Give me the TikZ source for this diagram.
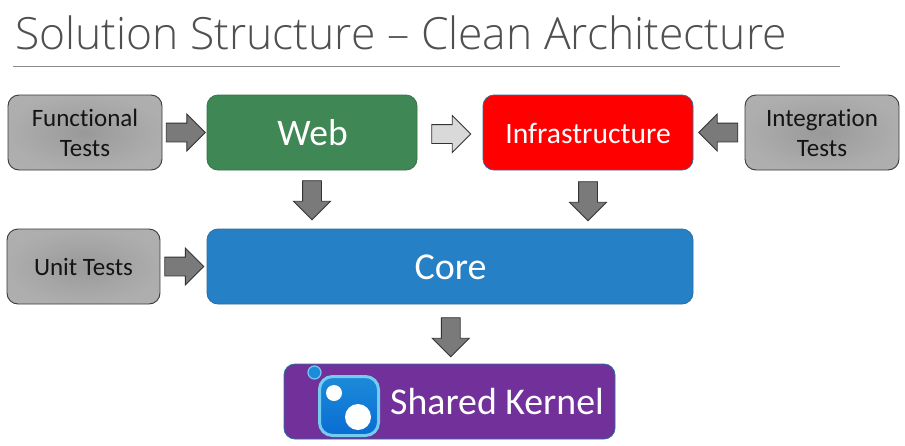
\documentclass[tikz,border=0pt]{standalone}
\usepackage{fontspec}
\setmainfont[Ligatures=NoCommon]{Carlito}
\newfontfamily\titlefont{Open Sans Light}
\usetikzlibrary{shapes.arrows,calc}
\definecolor{tgray}{HTML}{505050}
\definecolor{boxline}{HTML}{3A3A3A}
\definecolor{webgreen}{HTML}{3F8754}
\definecolor{corblue}{HTML}{2680C5}
\definecolor{kernel}{HTML}{72309A}
\definecolor{edgeblue}{HTML}{2F6C9E}
\definecolor{logoedge}{HTML}{74CDEF}
\definecolor{logotop}{HTML}{1C8BDA}
\definecolor{logobot}{HTML}{0A6CD2}
\pgfdeclareradialshading{graybox}{\pgfpointorigin}{color(0bp)=(black!40); color(12bp)=(black!36); color(25bp)=(black!32); color(50bp)=(black!30)}
\tikzset{
  testbox/.style={draw=boxline,line width=0.9pt,rounded corners=11pt,shading=graybox,minimum width=#1,minimum height=75pt,inner sep=0pt,align=center,text=black!92,font=\fontsize{25}{30}\selectfont},
  layerbox/.style={draw=edgeblue,line width=0.8pt,rounded corners=11pt,minimum height=75pt,inner sep=0pt,text=white,align=center},
  blockarrow/.style={shape=single arrow,draw=black!80,line width=0.9pt,fill=black!52,minimum height=39pt,minimum width=36pt,single arrow head extend=9pt,single arrow tip angle=90,inner sep=9pt,outer sep=0pt},
  lightarrow/.style={blockarrow,fill=black!15},
  logodot/.style={circle,fill=white,inner sep=0pt,minimum size=#1}
}
\begin{document}
\begin{tikzpicture}[x=1pt,y=-1pt]
\useasboundingbox (0,0) rectangle (905,445);
\fill[white] (0,0) rectangle (905,445);
\node[anchor=base west,inner sep=0pt,text=tgray,font=\titlefont\fontsize{44.4}{50}\selectfont] (title) at (15,49.5) {Solution Structure – Clean Architecture};
\coordinate (ruleL) at (13,66);
\coordinate (ruleR) at (840,66);
\draw[black!45,line width=0.7pt] (ruleL) -- (ruleR);
\node[testbox=154pt] (functional) at (85,132.5) {Functional\\Tests};
\node[layerbox,fill=webgreen,draw=webgreen!85!black,minimum width=210pt] (web) at (312,132.5) {};
\node[anchor=base,inner sep=0pt,text=white,font=\fontsize{37.5}{40}\selectfont] (webtext) at (312.5,145) {Web};
\node[layerbox,fill=red,minimum width=210pt] (infra) at (588,132.5) {};
\node[anchor=base,inner sep=0pt,text=white,font=\fontsize{29.6}{32}\selectfont] (infratext) at (588,143) {Infrastructure};
\node[testbox=154pt] (integration) at (822,132.5) {Integration\\Tests};
\node[testbox=153pt] (unit) at (83.5,266.5) {Unit Tests};
\node[layerbox,fill=corblue,minimum width=486pt] (core) at (450,266.5) {};
\node[anchor=base,inner sep=0pt,text=white,font=\fontsize{38}{40}\selectfont] (coretext) at (450.5,279) {Core};
\node[layerbox,fill=kernel,minimum width=331pt] (kernel) at (449.5,401.5) {};
\node[anchor=base west,inner sep=0pt,text=white,font=\fontsize{37.8}{40}\selectfont] (kerneltext) at (390,414) {Shared Kernel};
% logo
\node[circle,draw=logoedge,line width=1.2pt,fill=logotop,minimum size=13pt,inner sep=0pt] (logoring) at (314.5,372.5) {};
\node[draw=logoedge,line width=3pt,rounded corners=13pt,minimum size=59pt,inner sep=0pt,
  top color=logotop,bottom color=logobot] (logo) at (349,406) {};
\node[logodot=16pt] (dota) at (334,393) {};
\node[logodot=26pt] (dotb) at (358,417) {};
% block arrows
\node[blockarrow] (a1) at ($(functional.east)!0.5!(web.west)+(-3.5,0)$) {};
\node[lightarrow] (a2) at ($(web.east)!0.5!(infra.west)+(-3.5,1.5)$) {};
\node[blockarrow,shape border rotate=180] (a3) at ($(infra.east)!0.5!(integration.west)+(4,0)$) {};
\node[blockarrow,shape border rotate=270] (a4) at ($(web.south)!0.5!(web.south|-core.north)+(0,-4)$) {};
\node[blockarrow,shape border rotate=270] (a5) at ($(infra.south)!0.5!(infra.south|-core.north)+(0,-3)$) {};
\node[blockarrow] (a6) at ($(unit.east)!0.5!(core.west)+(-4,0)$) {};
\node[blockarrow,shape border rotate=270] (a7) at ($(core.south)!0.5!(kernel.north)+(1,-1.5)$) {};
\end{tikzpicture}
\end{document}
